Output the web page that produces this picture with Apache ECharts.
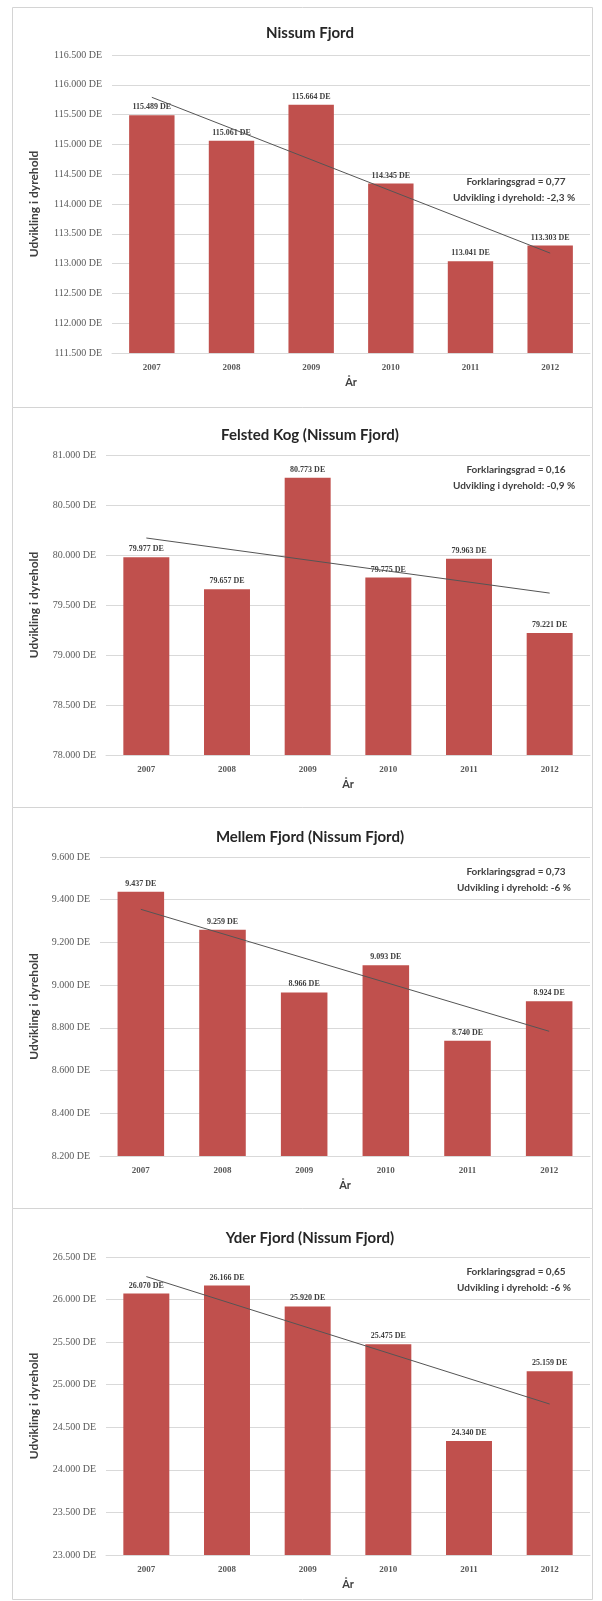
<!DOCTYPE html>
<html>
<head>
<meta charset="utf-8">
<script src="https://cdn.jsdelivr.net/npm/echarts@6/dist/echarts.min.js"></script>
<style>
html,body{margin:0;padding:0;background:#fff;}
#c{width:602px;height:1601px;}
</style>
</head>
<body>
<div id="c"></div>
<script>
const categories = ['2007', '2008', '2009', '2010', '2011', '2012'];
const titles = ['Nissum Fjord', 'Felsted Kog (Nissum Fjord)', 'Mellem Fjord (Nissum Fjord)', 'Yder Fjord (Nissum Fjord)'];
const nissumValues = [115489, 115061, 115664, 114345, 113041, 113303];
const felstedValues = [79977, 79657, 80773, 79775, 79963, 79221];
const mellemValues = [9437, 9259, 8966, 9093, 8740, 8924];
const yderValues = [26070, 26166, 25920, 25475, 24340, 25159];
const nissumTrend = [115790, 113176];
const felstedTrend = [80170, 79619];
const mellemTrend = [9355, 8784];
const yderTrend = [26270, 24773];
const yMin = [111500, 78000, 8200, 23000];
const yMax = [116500, 81000, 9600, 26500];
const yStep = [500, 500, 200, 500];
const r2Texts = ['Forklaringsgrad = 0,77', 'Forklaringsgrad = 0,16', 'Forklaringsgrad = 0,73', 'Forklaringsgrad = 0,65'];
const devTexts = ['Udvikling i dyrehold: -2,3 %', 'Udvikling i dyrehold: -0,9 %', 'Udvikling i dyrehold: -6 %', 'Udvikling i dyrehold: -6 %'];
const yAxisName = 'Udvikling i dyrehold';
const xAxisName = 'År';

const allValues = [nissumValues, felstedValues, mellemValues, yderValues];
const allTrends = [nissumTrend, felstedTrend, mellemTrend, yderTrend];

function fmt(n) {
  return String(Math.round(n)).replace(/\B(?=(\d{3})+(?!\d))/g, '.') + ' DE';
}

// layout (pixels)
const panels = [
  {y: 7, h: 400, gl: 112, gt: 55, gh: 298, titleY: 28, annY: 182},
  {y: 407, h: 400, gl: 106, gt: 455, gh: 300, titleY: 430, annY: 470},
  {y: 807, h: 401, gl: 100, gt: 857, gh: 299, titleY: 832, annY: 872},
  {y: 1208, h: 391, gl: 106, gt: 1257, gh: 298, titleY: 1233, annY: 1272}
];

const grid = [], xAxis = [], yAxis = [], series = [], title = [], graphic = [];
const serifFont = '"Liberation Serif", "DejaVu Serif", serif';
const sansFont = 'Lato, "Open Sans", sans-serif';

panels.forEach((p, i) => {
  graphic.push({
    type: 'rect', left: 12, top: p.y, z: -1,
    shape: {x: 0, y: 0, width: 580, height: p.h},
    style: {fill: '#ffffff', stroke: '#d4d4d4', lineWidth: 1}
  });
  graphic.push({
    type: 'text', x: 516, y: p.annY,
    style: {text: r2Texts[i], font: 'bold 10px ' + sansFont, fill: '#404040', textAlign: 'center', textVerticalAlign: 'middle'}
  });
  graphic.push({
    type: 'text', x: 514, y: p.annY + 16,
    style: {text: devTexts[i], font: 'bold 10px ' + sansFont, fill: '#404040', textAlign: 'center', textVerticalAlign: 'middle'}
  });
  title.push({
    text: titles[i], left: 305, top: p.titleY, textAlign: 'center', textVerticalAlign: 'middle',
    textStyle: {fontFamily: sansFont, fontWeight: 'bold', fontSize: 15, color: '#262626'}
  });
  grid.push({left: p.gl, right: 12, top: p.gt, height: p.gh});
  xAxis.push({
    type: 'category', gridIndex: i, data: categories,
    name: xAxisName, nameLocation: 'middle', nameGap: 24,
    nameTextStyle: {fontFamily: sansFont, fontWeight: 'bold', fontSize: 11, color: '#404040'},
    axisTick: {show: false},
    axisLine: {lineStyle: {color: '#d9d9d9'}},
    axisLabel: {fontFamily: serifFont, fontSize: 9, fontWeight: 'bold', color: '#595959', margin: 10}
  });
  yAxis.push({
    type: 'value', gridIndex: i, min: yMin[i], max: yMax[i], interval: yStep[i],
    name: yAxisName, nameLocation: 'middle', nameGap: p.gl - 40,
    nameTextStyle: {fontFamily: sansFont, fontWeight: 'bold', fontSize: 12, color: '#404040'},
    axisLine: {show: false}, axisTick: {show: false},
    splitLine: {lineStyle: {color: '#d9d9d9'}},
    axisLabel: {fontFamily: serifFont, fontSize: 10, color: '#595959', margin: 10, formatter: v => fmt(v)}
  });
  series.push({
    type: 'bar', xAxisIndex: i, yAxisIndex: i, data: allValues[i],
    barCategoryGap: '43%',
    itemStyle: {color: '#c0504d'},
    label: {show: true, position: 'top', distance: 4, formatter: d => fmt(d.value),
      fontFamily: serifFont, fontSize: 8, fontWeight: 'bold', color: '#404040'}
  });
  series.push({
    type: 'line', xAxisIndex: i, yAxisIndex: i,
    data: [[0, allTrends[i][0]], [5, allTrends[i][1]]],
    symbol: 'none', silent: true, z: 5,
    lineStyle: {color: '#555555', width: 1}
  });
});

const chart = echarts.init(document.getElementById('c'), null, {renderer: 'canvas'});
chart.setOption({
  backgroundColor: '#ffffff',
  animation: false,
  title, grid, xAxis, yAxis, series, graphic
});
</script>
</body>
</html>
